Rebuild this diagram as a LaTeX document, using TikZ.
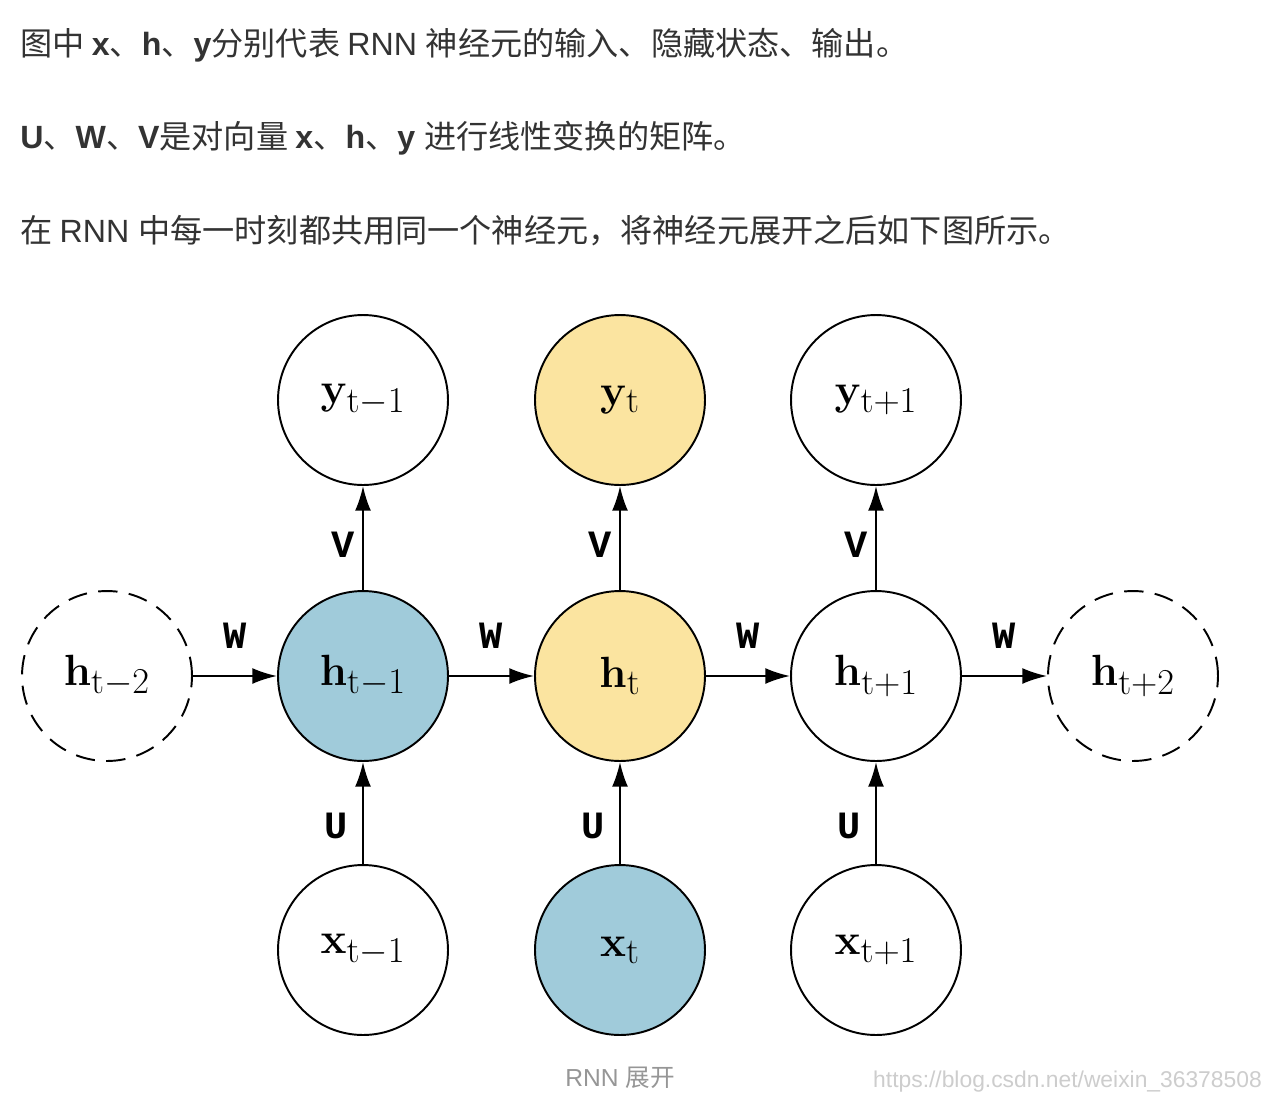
\documentclass[tikz,border=0pt]{standalone}
\usepackage{amsmath}
\usepackage{bm}
\usepackage[no-math]{fontspec}
\setmainfont{Liberation Sans}
\newfontfamily\cjk{Noto Sans CJK SC}
\newfontfamily\lblfont{Liberation Mono}
\usetikzlibrary{arrows.meta}

\definecolor{textgrey}{RGB}{51,51,51}
\definecolor{capgrey}{RGB}{150,150,150}
\definecolor{markgrey}{RGB}{205,205,205}
\definecolor{cellblue}{RGB}{160,203,218}
\definecolor{cellyellow}{RGB}{251,228,160}

\begin{document}
\begin{tikzpicture}[x=0.02cm, y=-0.02cm,
	neuron/.style={circle, draw, line width=1.1pt, minimum size=3.4cm, inner sep=0pt, font=\fontsize{30}{36}\selectfont},
	ghost/.style={neuron, dash pattern=on 11pt off 6.5pt},
	link/.style={-{Latex[length=14pt, width=9pt]}, line width=1.1pt},
	wlabel/.style={font=\lblfont\bfseries\fontsize{22}{24}\selectfont},
	intro/.style={anchor=base west, inner sep=0pt, text=textgrey, font=\fontsize{18.3}{21}\selectfont}]
	\useasboundingbox[fill=white] (0,0) rectangle (1276,1100);
	%\draw[help lines] (0,0) grid[step=100] (1276,1100);

	% text above the picture
	\node[intro] (line1) at (20,55) {{\cjk 图中 }\textbf{x}{\cjk 、}\textbf{h}{\cjk 、}\textbf{y}{\cjk 分别代表 }RNN {\cjk 神经元的输入、隐藏状态、输出。}};
	\node[intro] (line2) at (20,148) {\textbf{U}{\cjk 、}\textbf{W}{\cjk 、}\textbf{V}{\cjk 是对向量 }\textbf{x}{\cjk 、}\textbf{h}{\cjk 、}\textbf{y} {\cjk 进行线性变换的矩阵。}};
	\node[intro] (line3) at (20,242) {{\cjk 在 }RNN {\cjk 中每一时刻都共用同一个神经元，将神经元展开之后如下图所示。}};

	% hidden row
	\node[ghost] (hm2) at (107,676) {$\mathbf{h}_{\mathrm{t-2}}$};
	\node[neuron, fill=cellblue] (hm1) at (363,676) {$\mathbf{h}_{\mathrm{t-1}}$};
	\node[neuron, fill=cellyellow] (h0) at (620,676) {$\mathbf{h}_{\mathrm{t}}$};
	\node[neuron] (hp1) at (876,676) {$\mathbf{h}_{\mathrm{t+1}}$};
	\node[ghost] (hp2) at (1133,676) {$\mathbf{h}_{\mathrm{t+2}}$};

	% output row
	\node[neuron] (ym1) at (363,400) {$\mathbf{y}_{\mathrm{t-1}}$};
	\node[neuron, fill=cellyellow] (y0) at (620,400) {$\mathbf{y}_{\mathrm{t}}$};
	\node[neuron] (yp1) at (876,400) {$\mathbf{y}_{\mathrm{t+1}}$};

	% input row
	\node[neuron] (xm1) at (363,950) {$\mathbf{x}_{\mathrm{t-1}}$};
	\node[neuron, fill=cellblue] (x0) at (620,950) {$\mathbf{x}_{\mathrm{t}}$};
	\node[neuron] (xp1) at (876,950) {$\mathbf{x}_{\mathrm{t+1}}$};

	% W
	\draw[link] (hm2) -- node[wlabel, yshift=0.8cm] {W} (hm1);
	\draw[link] (hm1) -- node[wlabel, yshift=0.8cm] {W} (h0);
	\draw[link] (h0) -- node[wlabel, yshift=0.8cm] {W} (hp1);
	\draw[link] (hp1) -- node[wlabel, yshift=0.8cm] {W} (hp2);

	% V
	\draw[link] (hm1) -- node[wlabel, xshift=-0.4cm, yshift=-0.14cm] {V} (ym1);
	\draw[link] (h0) -- node[wlabel, xshift=-0.4cm, yshift=-0.14cm] {V} (y0);
	\draw[link] (hp1) -- node[wlabel, xshift=-0.4cm, yshift=-0.14cm] {V} (yp1);

	% U
	\draw[link] (xm1) -- node[wlabel, xshift=-0.54cm, yshift=-0.26cm] {U} (hm1);
	\draw[link] (x0) -- node[wlabel, xshift=-0.54cm, yshift=-0.26cm] {U} (h0);
	\draw[link] (xp1) -- node[wlabel, xshift=-0.54cm, yshift=-0.26cm] {U} (hp1);

	% caption and mark
	\node[text=capgrey, font=\fontsize{14}{16}\selectfont] (caption) at (620,1078) {RNN {\cjk 展开}};
	\node[anchor=east, text=markgrey, font=\fontsize{13}{15}\selectfont] (mark) at (1268,1082) {https://blog.csdn.net/weixin\_36378508};
\end{tikzpicture}
\end{document}
